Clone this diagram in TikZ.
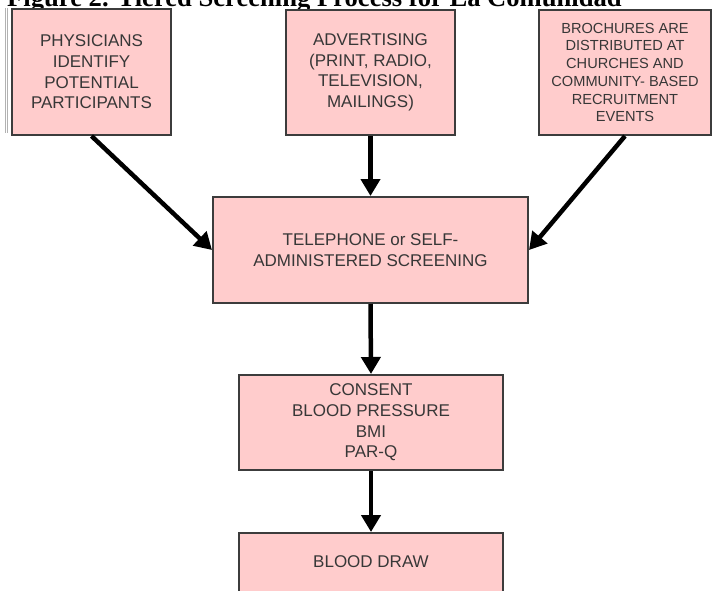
\documentclass[tikz,border=0pt]{standalone}
\usepackage{fontspec}
\setmainfont{Liberation Serif}
\newfontfamily\boxfont{Liberation Sans}
\usetikzlibrary{arrows.meta}
\definecolor{boxpink}{RGB}{255,204,204}
\definecolor{boxline}{RGB}{60,60,60}
\definecolor{boxtext}{RGB}{55,55,55}
\tikzset{
  flowbox/.style={draw=boxline, line width=2pt, fill=boxpink, inner sep=0pt,
    align=center, text=boxtext, font=\boxfont\fontsize{17}{20.6}\selectfont},
  smallbox/.style={flowbox, font=\boxfont\fontsize{14.6}{17.7}\selectfont},
  flowarrow/.style={line width=4.5pt, -{Triangle[length=17pt,width=19pt]}, black}
}
\begin{document}
\begin{tikzpicture}[x=1pt,y=-1pt]
\useasboundingbox (0,0) rectangle (712,590);
\begin{scope}
\clip (0,0) rectangle (712,590);
\node[anchor=base west, inner sep=0pt, font=\bfseries\fontsize{26.6}{30}\selectfont] (title) at (7,6) {Figure 2. Tiered Screening Process for La Comunidad};
\draw[gray!60, line width=0.8pt] (5,8) -- (5,133);
\draw[gray!60, line width=0.8pt] (7.5,8) -- (7.5,133);
\node[flowbox, minimum width=159pt, minimum height=126pt] (b1) at (91.5,72) {PHYSICIANS\\IDENTIFY\\POTENTIAL\\PARTICIPANTS};
\node[flowbox, minimum width=169pt, minimum height=125pt] (b2) at (370.5,72.5) {ADVERTISING\\(PRINT, RADIO,\\TELEVISION,\\MAILINGS)};
\node[smallbox, minimum width=172pt, minimum height=125pt] (b3) at (625,72.5) {BROCHURES ARE\\DISTRIBUTED AT\\CHURCHES AND\\COMMUNITY- BASED\\RECRUITMENT\\EVENTS};
\node[flowbox, minimum width=315pt, minimum height=106pt] (b4) at (370.5,250) {TELEPHONE or SELF-\\ADMINISTERED SCREENING};
\node[flowbox, minimum width=264pt, minimum height=95pt] (b5) at (371,422.5) {CONSENT\\BLOOD PRESSURE\\BMI\\PAR-Q};
\node[flowbox, minimum width=264pt, minimum height=67pt] (b6) at (371,566.5) {\raisebox{10pt}{BLOOD DRAW}};
\draw[flowarrow] (b1.south) -- (b4.west);
\draw[flowarrow] (b2.south) -- (b4.north);
\draw[flowarrow] (b3.south) -- (b4.east);
\draw[flowarrow] (b4.south) -- (b5.north);
\draw[flowarrow] (b5.south) -- (b6.north);
\end{scope}
\end{tikzpicture}
\end{document}
